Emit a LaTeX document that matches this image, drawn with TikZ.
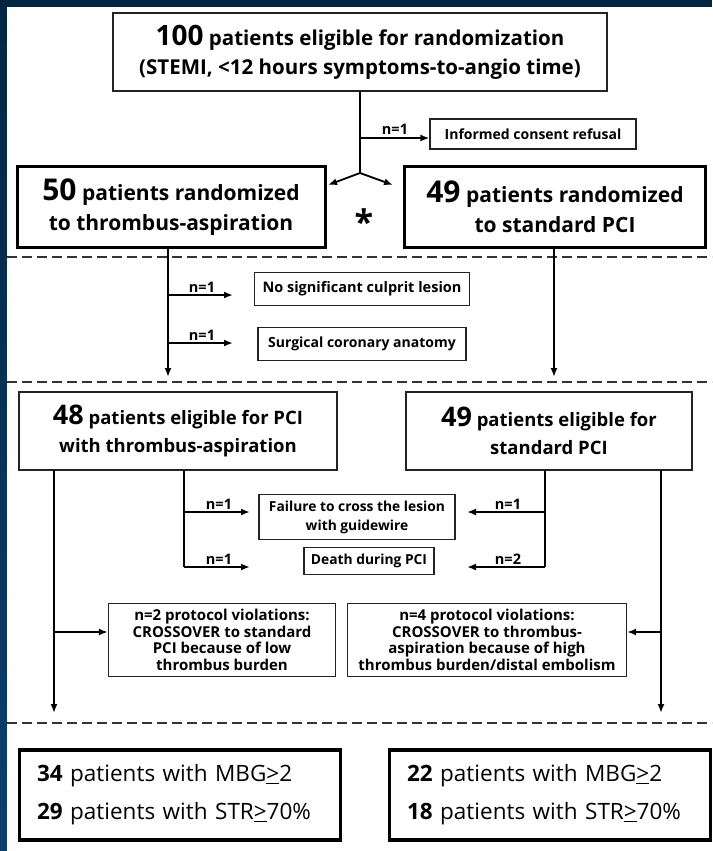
\documentclass[tikz,border=0pt]{standalone}
\usepackage{fontspec}
\setmainfont{Open Sans}
\usetikzlibrary{arrows.meta}
\definecolor{navyA}{RGB}{2,38,66}
\definecolor{navyB}{RGB}{12,64,108}
\definecolor{thinline}{RGB}{35,35,35}
\newcommand{\fs}[2]{\fontsize{#1}{#2}\selectfont}
\begin{document}
\begin{tikzpicture}[x=1pt,y=-1pt,
  heavybox/.style={draw=black, line width=3pt, inner sep=0pt, align=center},
  lightbox/.style={draw=thinline, line width=1.5pt, inner sep=0pt, align=center},
  arr/.style={line width=1.8pt, -{Latex[length=9pt,width=7pt]}},
  plain/.style={line width=1.8pt},
  sepline/.style={line width=1.5pt, draw=black!80, dash pattern=on 10pt off 5pt},
  nlab/.style={font=\bfseries\fs{14.5}{14.5}, inner sep=1pt, anchor=south}]
\useasboundingbox (0,0) rectangle (712,851);
\fill[navyA] (0,0) rectangle (712,7);
\shade[top color=navyA, bottom color=navyB] (0,0) rectangle (7,851);
\fill[white] (7,7) rectangle (712,851);

% boxes
\node[lightbox, minimum width=494pt, minimum height=78pt, font=\bfseries\fs{20.5}{29}] (top) at (360,52)
  {{\fs{28}{28}100} patients eligible for randomization\\(STEMI, <12 hours symptoms-to-angio time)};
\node[lightbox, line width=1.2pt, minimum width=206pt, minimum height=30pt, font=\bfseries\fs{14}{15}] (consent) at (533,134)
  {Informed consent refusal};
\node[heavybox, minimum width=308pt, minimum height=81pt, font=\bfseries\fs{21}{30}] (r50) at (171,207)
  {{\fs{30}{30}50} patients randomized\\to thrombus-aspiration};
\node[heavybox, minimum width=301pt, minimum height=81pt, font=\bfseries\fs{21}{30}] (r49) at (555,207)
  {{\fs{30}{30}49} patients randomized\\to standard PCI};
\node[font=\bfseries\fs{34}{34}, inner sep=0pt] (star) at (364,222) {*};

\node[lightbox, line width=1.2pt, minimum width=215pt, minimum height=33pt, font=\bfseries\fs{14.5}{15}] (culprit) at (362,289)
  {No significant culprit lesion};
\node[lightbox, line width=1.2pt, minimum width=208pt, minimum height=33pt, font=\bfseries\fs{14}{15}] (surg) at (362,344)
  {Surgical coronary anatomy};

\node[lightbox, minimum width=318pt, minimum height=78pt, font=\bfseries\fs{18.5}{28}] (e48) at (178,431)
  {{\fs{27}{27}48} patients eligible for PCI\\with thrombus-aspiration};
\node[lightbox, minimum width=286pt, minimum height=78pt, font=\bfseries\fs{18.5}{28}] (e49) at (549,431)
  {{\fs{27}{27}49} patients eligible for\\standard PCI};

\node[lightbox, line width=1.2pt, minimum width=196pt, minimum height=45pt, font=\bfseries\fs{13.8}{19}] (fail) at (357,517)
  {Failure to cross the lesion\\with guidewire};
\node[lightbox, line width=1.2pt, minimum width=130pt, minimum height=27pt, font=\bfseries\fs{13.8}{15}] (death) at (369,561)
  {Death during PCI};

\node[lightbox, line width=1.2pt, minimum width=227pt, minimum height=73pt, font=\bfseries\fs{15}{16.5}] (p2) at (222,640)
  {n=2 protocol violations:\\CROSSOVER to standard\\PCI because of low\\thrombus burden};
\node[lightbox, line width=1.2pt, minimum width=279pt, minimum height=73pt, font=\bfseries\fs{15}{16.5}] (p4) at (487,640)
  {n=4 protocol violations:\\CROSSOVER to thrombus-\\aspiration because of high\\thrombus burden/distal embolism};

\node[heavybox, line width=3.5pt, minimum width=321pt, minimum height=90pt, align=left, font=\fs{22.5}{38}, text width=286pt] (res1) at (180,795)
  {\textbf{34} patients with MBG\underline{>}2\\\textbf{29} patients with STR\underline{>}70\%};
\node[heavybox, line width=3.5pt, minimum width=321pt, minimum height=90pt, align=left, font=\fs{22.5}{38}, text width=286pt] (res2) at (550,795)
  {\textbf{22} patients with MBG\underline{>}2\\\textbf{18} patients with STR\underline{>}70\%};

% separators
\coordinate (s1a) at (7,257); \coordinate (s1b) at (712,257);
\coordinate (s2a) at (7,382); \coordinate (s2b) at (712,382);
\coordinate (s3a) at (7,723); \coordinate (s3b) at (712,723);
\draw[sepline] (s1a) -- (s1b);
\draw[sepline] (s2a) -- (s2b);
\draw[sepline] (s3a) -- (s3b);

% randomization
\coordinate (J) at (360,173);
\coordinate (JL) at (328,185);
\coordinate (JR) at (393,185);
\coordinate (B) at (360,138);
\draw[plain] (top.south) -- (J);
\draw[arr] (J) -- (JL);
\draw[arr] (J) -- (JR);
\draw[arr] (B) -- (B -| consent.west);
\node[nlab] at (395,136) {n=1};

% exclusions after randomization
\coordinate (La) at (168,248); \coordinate (Lb) at (168,377);
\coordinate (Ra) at (554,248); \coordinate (Rb) at (554,377);
\draw[arr] (La) -- (Lb);
\draw[arr] (Ra) -- (Rb);
\coordinate (x1) at (168,295); \coordinate (x1e) at (233,295);
\coordinate (x2) at (168,343); \coordinate (x2e) at (233,343);
\draw[arr] (x1) -- (x1e);
\draw[arr] (x2) -- (x2e);
\node[nlab] at (202,294) {n=1};
\node[nlab] at (202,342) {n=1};

% PCI stage
\coordinate (Lo1) at (54,470); \coordinate (Lo2) at (54,713);
\coordinate (Li1) at (184,470); \coordinate (Li2) at (184,567);
\coordinate (Ri1) at (545,470); \coordinate (Ri2) at (545,567);
\coordinate (Ro1) at (661,470); \coordinate (Ro2) at (661,713);
\draw[arr] (Lo1) -- (Lo2);
\draw[arr] (Ro1) -- (Ro2);
\draw[plain] (Li1) -- (Li2);
\draw[plain] (Ri1) -- (Ri2);
\coordinate (fL) at (184,512); \coordinate (fLe) at (250,512);
\coordinate (dL) at (184,567); \coordinate (dLe) at (250,567);
\coordinate (fR) at (545,512); \coordinate (fRe) at (467,512);
\coordinate (dR) at (545,567); \coordinate (dRe) at (467,567);
\draw[arr] (fL) -- (fLe);
\draw[arr] (dL) -- (dLe);
\draw[arr] (fR) -- (fRe);
\draw[arr] (dR) -- (dRe);
\node[nlab] at (219,511) {n=1};
\node[nlab] at (219,566) {n=1};
\node[nlab] at (508,511) {n=1};
\node[nlab] at (508,566) {n=2};

% crossovers
\coordinate (cL) at (54,632); \coordinate (cR) at (661,632);
\draw[arr] (cL) -- (cL -| p2.west);
\draw[arr] (cR) -- (cR -| p4.east);
\end{tikzpicture}
\end{document}
